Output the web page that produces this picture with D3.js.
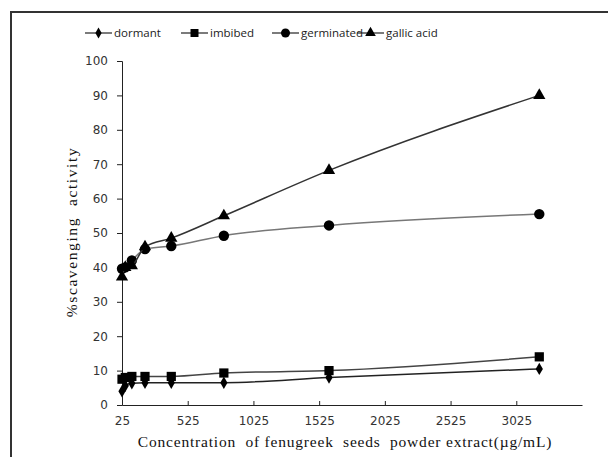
<!DOCTYPE html>
<html lang="en">
<head>
    <meta charset="UTF-8">
    <title>Scavenging activity</title>
    <script src="https://d3js.org/d3.v7.min.js"></script>
    <style>
        body { margin: 0; background: #fff; }
        svg { display: block; }
        .tick text { font-family: "DejaVu Sans", sans-serif; font-size: 12px; fill: #333; }
        .legend text { font-family: "Open Sans", sans-serif; font-size: 11.5px; fill: #222; }
        .title { font-family: "Liberation Serif", serif; font-size: 15.5px; fill: #111; }
    </style>
</head>
<body>
<div id="chart"></div>
<script>
    const width = 608, height = 457;

    const concentrations = [25, 50, 100, 200, 400, 800, 1600, 3200];
    const dormant    = [4, 5.6, 6.3, 6.5, 6.5, 6.5, 8, 10.5];
    const imbibed    = [7.5, 8, 8.3, 8.3, 8.3, 9.3, 10, 14];
    const germinated = [39.6, 40, 42, 45.3, 46.2, 49.2, 52.2, 55.5];
    const gallicAcid = [37.2, 40, 40.5, 46, 48.5, 55, 68.2, 90];

    const xTicks = [25, 525, 1025, 1525, 2025, 2525, 3025];
    const yTicks = [0, 10, 20, 30, 40, 50, 60, 70, 80, 90, 100];

    const series = [
        {name: "dormant", values: dormant, symbol: d3.symbolDiamond, size: 45, color: "#222"},
        {name: "imbibed", values: imbibed, symbol: d3.symbolSquare, size: 85, color: "#444"},
        {name: "germinated", values: germinated, symbol: d3.symbolCircle, size: 85, color: "#777"},
        {name: "gallic acid", values: gallicAcid, symbol: d3.symbolTriangle, size: 65, color: "#333"}
    ];

    const margin = {left: 122, top: 61, right: 26, bottom: 52};

    const svg = d3.select("#chart").append("svg")
        .attr("width", width)
        .attr("height", height);

    // outer frame (only left and top visible)
    svg.append("path")
        .attr("d", `M11,${height} L11,12 L${width},12`)
        .attr("fill", "none")
        .attr("stroke", "#333")
        .attr("stroke-width", 2);

    const x = d3.scaleLinear().domain([25, 3525]).range([margin.left, width - margin.right]);
    const y = d3.scaleLinear().domain([0, 100]).range([height - margin.bottom, margin.top]);

    svg.append("g")
        .attr("transform", `translate(0,${y(0)})`)
        .call(d3.axisBottom(x).tickValues(xTicks).tickFormat(d3.format("d"))
            .tickSizeInner(-4).tickSizeOuter(0).tickPadding(11))
        .call(g => g.selectAll("line, path").attr("stroke", "#222"));

    svg.append("g")
        .attr("transform", `translate(${x(25)},0)`)
        .call(d3.axisLeft(y).tickValues(yTicks).tickSizeInner(5).tickSizeOuter(5).tickPadding(9))
        .call(g => g.selectAll("line, path").attr("stroke", "#222"));

    const line = d3.line()
        .x((d, i) => x(concentrations[i]))
        .y(d => y(d))
        .curve(d3.curveMonotoneX);

    series.forEach(s => {
        svg.append("path")
            .datum(s.values)
            .attr("fill", "none")
            .attr("stroke", s.color)
            .attr("stroke-width", 1.5)
            .attr("d", line);

        svg.append("g").selectAll("path")
            .data(s.values)
            .join("path")
            .attr("transform", (d, i) => `translate(${x(concentrations[i])},${y(d)})`)
            .attr("d", d3.symbol(s.symbol, s.size))
            .attr("fill", "#000");
    });

    // legend
    const legendX = [85, 181, 272, 357];
    const legend = svg.append("g").attr("class", "legend");
    series.forEach((s, i) => {
        const g = legend.append("g").attr("transform", `translate(${legendX[i]},33)`);
        g.append("line").attr("x1", 0).attr("x2", 27).attr("stroke", "#222").attr("stroke-width", 1.2);
        g.append("path").attr("transform", "translate(13.5,0)")
            .attr("d", d3.symbol(s.symbol, s.size * 0.75)).attr("fill", "#000");
        g.append("text").attr("x", 29).attr("dy", "0.35em").text(s.name);
    });

    svg.append("text")
        .attr("class", "title")
        .attr("x", 345).attr("y", 447)
        .attr("text-anchor", "middle")
        .attr("letter-spacing", "0.8px")
        .attr("xml:space", "preserve")
        .text("Concentration  of fenugreek  seeds  powder extract(\u00b5g/mL)");

    svg.append("text")
        .attr("class", "title")
        .attr("transform", "translate(77,232) rotate(-90)")
        .attr("text-anchor", "middle")
        .attr("letter-spacing", "1.6px")
        .attr("xml:space", "preserve")
        .text("%scavenging  activity");
</script>
</body>
</html>
